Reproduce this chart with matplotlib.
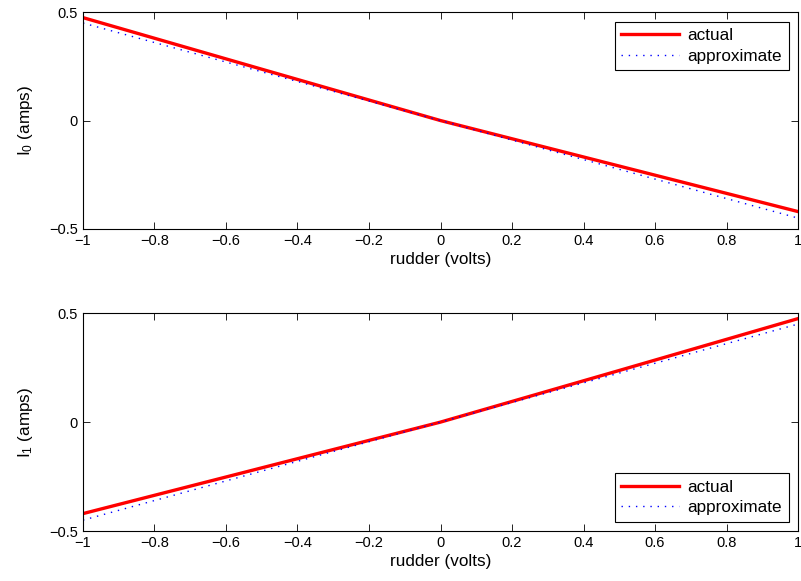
import matplotlib

matplotlib.use("Agg")
import matplotlib.pyplot as plt

# rudder voltage samples and measured / approximated currents
rudder = [-1.0, -0.5, 0.0, 0.5, 1.0]
i0_actual = [0.475, 0.237, 0.0, -0.21, -0.42]
i1_actual = [-0.42, -0.21, 0.0, 0.237, 0.475]
approx_x = [-1.0, 1.0]
i0_approx = [0.45, -0.45]
i1_approx = [-0.45, 0.45]

xticks = [-1, -0.8, -0.6, -0.4, -0.2, 0, 0.2, 0.4, 0.6, 0.8, 1]
yticks = [-0.5, 0, 0.5]

plt.rcParams.update({"font.family": ["Liberation Sans", "DejaVu Sans"],
                     "font.size": 10.5, "mathtext.fontset": "custom",
                     "mathtext.rm": "Liberation Sans", "mathtext.it": "Liberation Sans"})

fig = plt.figure(figsize=(8.01, 5.81), dpi=100)
axA = fig.add_axes([0.1036, 0.606, 0.8927, 0.373])
axB = fig.add_axes([0.1036, 0.086, 0.8927, 0.375])


def style(ax, ylabel, loc):
    ax.set_xlim(-1, 1)
    ax.set_ylim(-0.5, 0.5)
    ax.set_xticks(xticks)
    ax.set_xticklabels([f"{t:g}".replace("-", "\u2212") for t in xticks])
    ax.set_yticks(yticks)
    ax.set_yticklabels([f"{t:g}".replace("-", "\u2212") for t in yticks])
    ax.tick_params(direction="in", top=True, right=True, length=5, width=0.6,
                   labelsize=10.5)
    for sp in ax.spines.values():
        sp.set_linewidth(0.8)
    ax.set_xlabel("rudder (volts)", labelpad=3, fontsize=12.3)
    ax.set_ylabel(ylabel, labelpad=10, fontsize=12.3)
    leg = ax.legend(loc=loc, fancybox=False, framealpha=1, edgecolor="black",
                    handlelength=3.4, borderaxespad=0.55, fontsize=12.3,
                    labelspacing=0.3, borderpad=0.4, handletextpad=0.45)
    leg.get_frame().set_linewidth(0.8)


axA.plot(rudder, i0_actual, "-", color="red", lw=2.4, label="actual")
axA.plot(approx_x, i0_approx, color="blue", lw=1.0, dashes=(1, 4.2), label="approximate")
style(axA, r"I$_\mathrm{0}$ (amps)", "upper right")

axB.plot(rudder, i1_actual, "-", color="red", lw=2.4, label="actual")
axB.plot(approx_x, i1_approx, color="blue", lw=1.0, dashes=(1, 4.2), label="approximate")
style(axB, r"I$_\mathrm{1}$ (amps)", "lower right")

fig.savefig("out.png", dpi=100)
